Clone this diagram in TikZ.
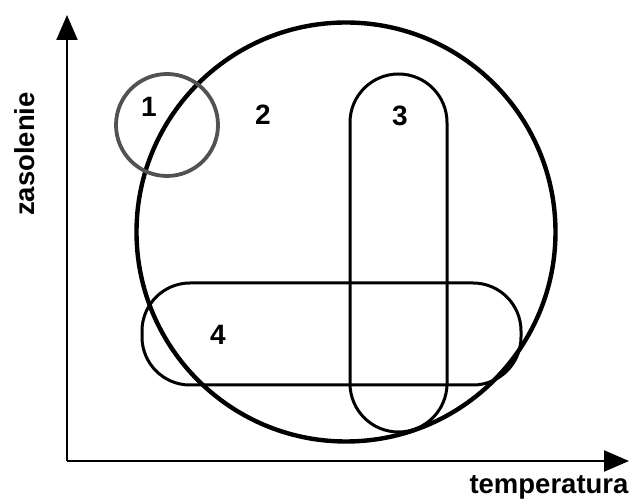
\documentclass[tikz,border=0pt]{standalone}
\usepackage{fontspec}
\setmainfont{Liberation Sans}
\usetikzlibrary{arrows.meta}
\begin{document}
\begin{tikzpicture}[x=1pt,y=-1pt,
  axisline/.style={line width=2.2pt,-{Triangle[length=25pt,width=21pt]}},
  bigring/.style={circle,draw,line width=4.4pt,inner sep=0pt},
  smallring/.style={circle,draw=black!68,line width=3.8pt,inner sep=0pt},
  pill/.style={rectangle,draw,line width=3pt,inner sep=0pt},
  lab/.style={font=\fontsize{28}{30}\selectfont\bfseries,inner sep=0pt},
  axlab/.style={font=\fontsize{27.5}{30}\selectfont\bfseries,inner sep=0pt}]
\useasboundingbox (0,0) rectangle (635,502);
% axes
\coordinate (o) at (67,461);
\coordinate (ytip) at (67,15);
\coordinate (xtip) at (629,461);
\draw[axisline] (o) -- (ytip);
\draw[axisline] (o) -- (xtip);
\node[axlab,rotate=90] (zas) at (25,154) {zasolenie};
\node[axlab] (temp) at (549,487) {temperatura};
% shapes
\node[bigring,minimum size=419pt] (big) at (346,232) {};
\node[smallring,minimum size=102pt] (c1) at (167,125) {};
\node[pill,minimum width=97pt,minimum height=358pt,rounded corners=48.5pt] (s3) at (398.5,253) {};
\node[pill,minimum width=379pt,minimum height=102pt,rounded corners=48pt] (s4) at (331.5,334) {};
% labels
\node[lab] (l1) at (149,107) {1};
\node[lab] (l2) at (263,115) {2};
\node[lab] (l3) at (400,116) {3};
\node[lab] (l4) at (218,335) {4};
\end{tikzpicture}
\end{document}
